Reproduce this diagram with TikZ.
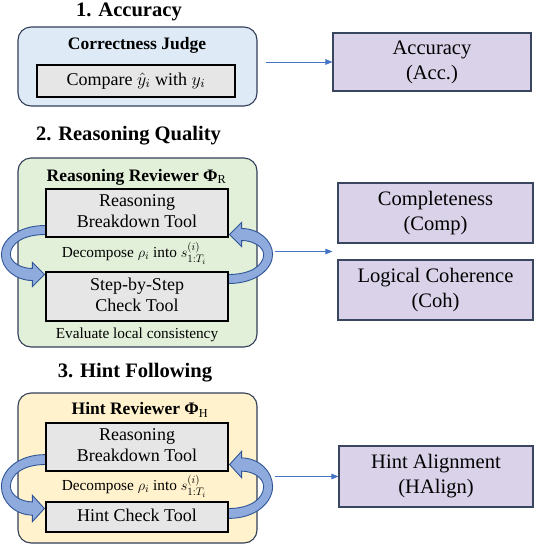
\documentclass[tikz,border=0pt]{standalone}
\usepackage{amsmath}
\usepackage{graphicx}
\usepackage{fontspec}
\setmainfont{Liberation Serif}
% larger serif copy, so big labels keep the same face
\newfontfamily\serifL{Liberation Serif}[Scale=1.5]
\usetikzlibrary{arrows.meta,calc}

% centred lines set at 12pt and enlarged 1.5 times
\newcommand{\biglines}[1]{\scalebox{1.5}{\fontsize{12}{14}\selectfont
  \begin{tabular}{@{}c@{}}#1\end{tabular}}}

\definecolor{bluefill}{RGB}{222,235,247}
\definecolor{greenfill}{RGB}{226,240,217}
\definecolor{yellowfill}{RGB}{255,242,204}
\definecolor{toolgray}{RGB}{231,230,230}
\definecolor{metricfill}{RGB}{217,210,233}
\definecolor{panelborder}{RGB}{50,62,88}
\definecolor{metricborder}{RGB}{58,70,96}
\definecolor{flowblue}{RGB}{68,114,196}
\definecolor{loopblue}{RGB}{143,170,220}
\definecolor{loopedge}{RGB}{47,85,151}

\pgfdeclarelayer{panels}
\pgfdeclarelayer{loops}
\pgfsetlayers{panels,loops,main}

\tikzset{
  panel/.style={draw=panelborder, line width=1.1pt, rounded corners=13pt,
    minimum width=239pt, inner sep=0pt},
  tool/.style={draw=black, fill=toolgray, line width=1.2pt, minimum width=182pt,
    align=center, inner sep=0pt},
  metric/.style={draw=metricborder, fill=metricfill, line width=1.1pt,
    align=center, inner sep=0pt, font=\serifL\fontsize{13.7}{25}\selectfont},
  title/.style={font=\serifL\bfseries\fontsize{13.7}{24}\selectfont},
  head/.style={font=\bfseries\fontsize{17.5}{20}\selectfont},
  note/.style={font=\fontsize{15.3}{18}\selectfont},
  flow/.style={draw=flowblue, line width=0.9pt, -{Triangle[length=7pt,width=5.5pt]}},
  loopband/.style={fill=loopblue, draw=loopedge, line width=0.9pt},
  % curved feedback arrow: tail leaves at the origin's upper side, head enters below
  pics/turn/.style={code={
    \path[loopband] (3,29) -- (0,29)
      .. controls (-28,29) and (-44,14) .. (-44,0)
      .. controls (-44,-14) and (-30,-26) .. (-13,-26)
      -- (-13,-32) -- (-1,-20) -- (-13,-8) -- (-13,-14)
      .. controls (-24,-14) and (-35,-8) .. (-35,0)
      .. controls (-35,11) and (-22,20) .. (0,20)
      -- (3,20) -- cycle;
  }}
}

\begin{document}
\begin{tikzpicture}[x=1pt,y=1pt]
\useasboundingbox (0,0) rectangle (535,-547);

% ---------- 1. Accuracy ----------
\node[title] (t1) at (129,-12) {1. Accuracy};
\begin{pgfonlayer}{panels}
  \node[panel, fill=bluefill, minimum height=79pt] (p1) at (137.5,-66.5) {};
\end{pgfonlayer}
\node[head] (h1) at (137,-45) {Correctness Judge};
\node[tool, minimum width=198pt, minimum height=32pt] (cmp) at (136,-81)
  {\biglines{Compare $\hat{y}_i$ with $y_i$}};
\node[metric, minimum width=198pt, minimum height=58pt] (acc) at (432,-62)
  {Accuracy\\(Acc.)};
\draw[flow, shorten <=8pt] (p1.east |- acc.west) -- (acc.west);

% ---------- 2. Reasoning Quality ----------
\node[title] (t2) at (128.5,-136) {2. Reasoning Quality};
\begin{pgfonlayer}{panels}
  \node[panel, fill=greenfill, minimum height=189pt] (p2) at (137.5,-252.5) {};
\end{pgfonlayer}
\node[head] (h2) at (136.5,-177) {Reasoning Reviewer Φ\textsubscript{\mdseries R}};
\node[tool, minimum height=48pt] (brk2) at (137,-213) {\biglines{Reasoning\\Breakdown Tool}};
\node[note] (d2) at (134,-253) {Decompose $\rho_i$ into $s_{1:T_i}^{(i)}$};
\node[tool, minimum height=49pt] (chk2) at (137,-296.5) {\biglines{Step-by-Step\\Check Tool}};
\node[note] (e2) at (137,-335) {Evaluate local consistency};
\begin{pgfonlayer}{loops}
  \pic at ($(brk2.south west)!.5!(chk2.north west)$) {turn};
  \pic[rotate=180] at ($(brk2.south east)!.5!(chk2.north east)$) {turn};
\end{pgfonlayer}
\node[metric, minimum width=195pt, minimum height=60pt] (comp) at (435.5,-213)
  {Completeness\\(Comp)};
\node[metric, minimum width=195pt, minimum height=60pt] (coh) at (435.5,-290)
  {Logical Coherence\\(Coh)};
\coordinate (m2) at ($(comp.south west)!.5!(coh.north west)+(-5,0)$);
\draw[flow, shorten <=17pt] (p2.east |- m2) -- (m2);

% ---------- 3. Hint Following ----------
\node[title] (t3) at (135,-373) {3. Hint Following};
\begin{pgfonlayer}{panels}
  \node[panel, fill=yellowfill, minimum height=150pt] (p3) at (137.5,-468) {};
\end{pgfonlayer}
\node[head] (h3) at (140,-410) {Hint Reviewer Φ\textsubscript{\mdseries H}};
\node[tool, minimum height=48pt] (brk3) at (137,-447) {\biglines{Reasoning\\Breakdown Tool}};
\node[note] (d3) at (134,-486) {Decompose $\rho_i$ into $s_{1:T_i}^{(i)}$};
\node[tool, minimum height=30pt] (hck3) at (137,-517) {\biglines{Hint Check Tool}};
\begin{pgfonlayer}{loops}
  \pic[yscale=1.1] at ($(brk3.south west)!.5!(hck3.north west)$) {turn};
  \pic[rotate=180, yscale=1.1] at ($(brk3.south east)!.5!(hck3.north east)$) {turn};
\end{pgfonlayer}
\node[metric, minimum width=194pt, minimum height=61pt] (ha) at (436,-476.5)
  {Hint Alignment\\(HAlign)};
\draw[flow, shorten <=17pt] (p3.east |- ha.west) -- (ha.west);
\end{tikzpicture}
\end{document}
